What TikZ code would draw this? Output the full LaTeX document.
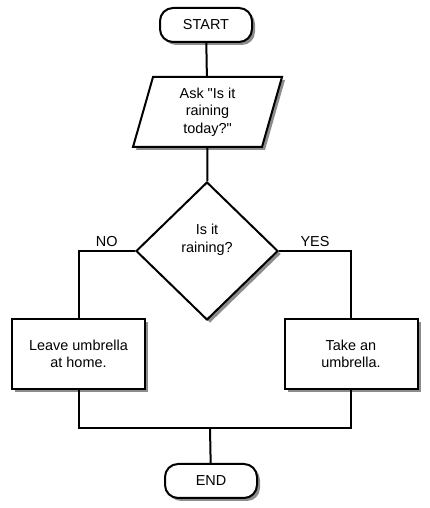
\documentclass[tikz,border=0pt]{standalone}
\usepackage[]{color}
\usepackage{fontspec}
\setmainfont{Liberation Sans}
\usetikzlibrary{shapes,shadows}

\begin{document}
\begin{tikzpicture}[scale=1,
  line width=2bp,
  font=\fontsize{14.5}{17.5}\selectfont,
  shade/.style={fill=white,drop shadow={shadow xshift=3bp,shadow yshift=-3bp,fill=gray!90,opacity=1}},
  terminal/.style={draw,shade,rectangle,rounded corners=13bp,minimum width=92bp,minimum height=34bp,inner sep=0pt},
  io/.style={draw,shade,trapezium,trapezium left angle=67.5,trapezium right angle=112.5,trapezium stretches body,minimum width=149bp,minimum height=70bp,inner sep=0pt,align=center},
  decision/.style={draw,shade,diamond,minimum width=142bp,minimum height=138bp,inner sep=0pt,align=center},
  process/.style={draw,shade,rectangle,minimum width=133bp,minimum height=70bp,inner sep=0pt,align=center}]
\useasboundingbox (0bp,0bp) rectangle (430bp,508bp);
\node (START) at (206bp,483bp) [terminal] {START};
\node (ASK) at (207.5bp,396bp) [io] {Ask \textquotedbl Is it\\raining\\today?\textquotedbl};
\node (RAIN) at (207bp,257bp) [decision] {\raisebox{11bp}[\height][\depth]{\begin{tabular}{@{}c@{}}Is it\\raining?\end{tabular}}};
\node (LEAVE) at (78.5bp,154bp) [process] {Leave umbrella\\at home.};
\node (TAKE) at (351bp,154bp) [process] {Take an\\umbrella.};
\node (END) at (211bp,27bp) [terminal] {END};
\coordinate (JOIN) at (210bp,80bp);
\draw (START) -- (ASK);
\draw (ASK) -- (RAIN);
\draw (RAIN.west) -| node[pos=0.25,above] {NO} (LEAVE.north);
\draw (RAIN.east) -| node[pos=0.25,above] {YES} (TAKE.north);
\draw (LEAVE.south) |- (JOIN);
\draw (TAKE.south) |- (JOIN);
\draw (JOIN) -- (END);
\end{tikzpicture}
\end{document}
